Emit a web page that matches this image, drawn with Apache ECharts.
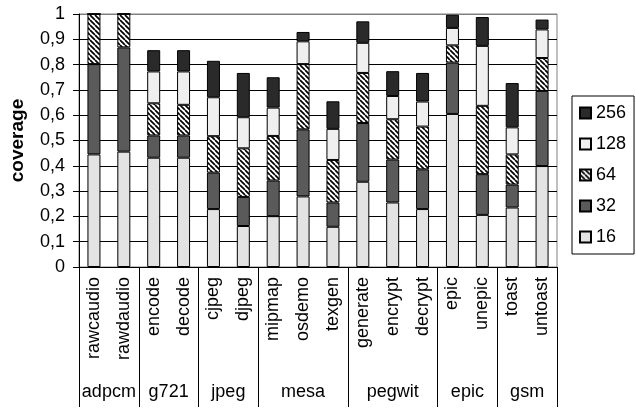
<!DOCTYPE html>
<html>
<head>
<meta charset="utf-8">
<script src="https://cdn.jsdelivr.net/npm/echarts@6/dist/echarts.min.js"></script>
<style>
  html, body { margin: 0; padding: 0; background: #fff; }
  #chart { width: 636px; height: 408px; }
</style>
</head>
<body>
<div id="chart"></div>
<script>
// Benchmarks and the suites they belong to
const benchmarks = ['rawcaudio', 'rawdaudio', 'encode', 'decode', 'cjpeg', 'djpeg',
  'mipmap', 'osdemo', 'texgen', 'generate', 'encrypt', 'decrypt',
  'epic', 'unepic', 'toast', 'untoast'];
const groupNames = ['adpcm', 'g721', 'jpeg', 'mesa', 'pegwit', 'epic', 'gsm'];
const groupSizes = [2, 2, 2, 3, 3, 2, 2];

// Cumulative coverage reached with each number of entries
const sizes = ['16', '32', '64', '128', '256'];
const cov16  = [0.445, 0.456, 0.432, 0.432, 0.229, 0.162, 0.201, 0.279, 0.159, 0.337, 0.255, 0.229, 0.605, 0.206, 0.235, 0.399];
const cov32  = [0.802, 0.868, 0.520, 0.520, 0.373, 0.277, 0.342, 0.544, 0.255, 0.569, 0.425, 0.386, 0.808, 0.367, 0.326, 0.696];
const cov64  = [1.000, 1.000, 0.647, 0.641, 0.517, 0.469, 0.518, 0.802, 0.423, 0.767, 0.584, 0.555, 0.876, 0.637, 0.445, 0.826];
const cov128 = [1.000, 1.000, 0.773, 0.773, 0.671, 0.592, 0.630, 0.892, 0.546, 0.886, 0.676, 0.654, 0.945, 0.874, 0.552, 0.939];
const cov256 = [1.000, 1.000, 0.857, 0.857, 0.815, 0.767, 0.750, 0.929, 0.655, 0.971, 0.774, 0.767, 0.997, 0.988, 0.727, 0.978];

const cumulative = [cov16, cov32, cov64, cov128, cov256];
// Each stacked segment is the extra coverage gained over the previous size
const segments = cumulative.map((arr, k) =>
  arr.map((v, i) => +(k === 0 ? v : v - cumulative[k - 1][i]).toFixed(3)));

// Diagonal hatch fill
function hatch() {
  const c = document.createElement('canvas');
  const s = 5;
  c.width = s; c.height = s;
  const g = c.getContext('2d');
  g.fillStyle = '#fff';
  g.fillRect(0, 0, s, s);
  g.strokeStyle = '#000';
  g.lineWidth = 1.7;
  for (const o of [-s, 0, s]) {
    g.beginPath();
    g.moveTo(o, 0);
    g.lineTo(o + s, s);
    g.stroke();
  }
  return { image: c, repeat: 'repeat' };
}
const fills = ['#e3e3e3', '#5a5a5a', hatch(), '#efefef', '#2a2a2a'];

// Half-step positions for the suite row: boundaries and centres of each suite
const halfSlots = [];
const suiteEdges = new Set([0]);
const suiteCentres = {};
let pos = 0;
groupSizes.forEach((n, g) => {
  suiteCentres[pos + n] = groupNames[g];
  pos += 2 * n;
  suiteEdges.add(pos);
});
for (let i = 0; i <= 2 * benchmarks.length; i++) halfSlots.push(suiteCentres[i] || '');

const font = 'Liberation Sans, Arial, sans-serif';
const chart = echarts.init(document.getElementById('chart'), null, { renderer: 'canvas' });

chart.setOption({
  animation: false,
  textStyle: { fontFamily: font },
  grid: { left: 78, right: 79, top: 14, bottom: 141, show: true, borderColor: '#808080', borderWidth: 1 },
  legend: {
    orient: 'vertical',
    left: 572, top: 96,
    icon: 'rect',
    data: ['256', '128', '64', '32', '16'],
    itemWidth: 11, itemHeight: 11, itemGap: 13,
    padding: [8, 8, 8, 7],
    borderColor: '#000', borderWidth: 1,
    textStyle: { fontSize: 18, color: '#000', fontFamily: font }
  },
  xAxis: [
    {
      type: 'category',
      data: benchmarks,
      position: 'bottom',
      axisLine: { lineStyle: { color: '#000', width: 1 } },
      axisTick: { interval: 0, length: 101, lineStyle: { color: '#000' } },
      axisLabel: { interval: 0, rotate: 90, margin: 10, fontSize: 18, color: '#000', fontFamily: font }
    },
    {
      type: 'category',
      data: halfSlots,
      boundaryGap: false,
      position: 'bottom',
      axisLine: { show: false },
      axisTick: { interval: (i) => suiteEdges.has(i), length: 140, lineStyle: { color: '#000' } },
      axisLabel: { interval: (i) => halfSlots[i] !== '', margin: 116, fontSize: 18, color: '#000', fontFamily: font },
      splitLine: { show: false }
    }
  ],
  yAxis: {
    type: 'value',
    min: 0, max: 1, interval: 0.1,
    name: 'coverage',
    nameLocation: 'middle',
    nameGap: 52,
    nameTextStyle: { fontSize: 19, fontWeight: 'bold', color: '#000', fontFamily: font },
    axisLine: { show: true, lineStyle: { color: '#000' } },
    axisTick: { show: true, length: 6, lineStyle: { color: '#000' } },
    axisLabel: {
      margin: 14, fontSize: 18, color: '#000', fontFamily: font,
      formatter: (v) => (v === 0 || v === 1) ? String(v) : v.toFixed(1).replace('.', ',')
    },
    splitLine: { lineStyle: { color: ['#000', '#000', '#000', '#000', '#000', '#000', '#000', '#000', '#000', '#000', '#808080'], width: 1 } }
  },
  series: sizes.map((name, k) => ({
    name,
    type: 'bar',
    stack: 'coverage',
    xAxisIndex: 0,
    barWidth: 13,
    data: segments[k],
    itemStyle: { color: fills[k], borderColor: '#000', borderWidth: 1 }
  }))
});
</script>
</body>
</html>
